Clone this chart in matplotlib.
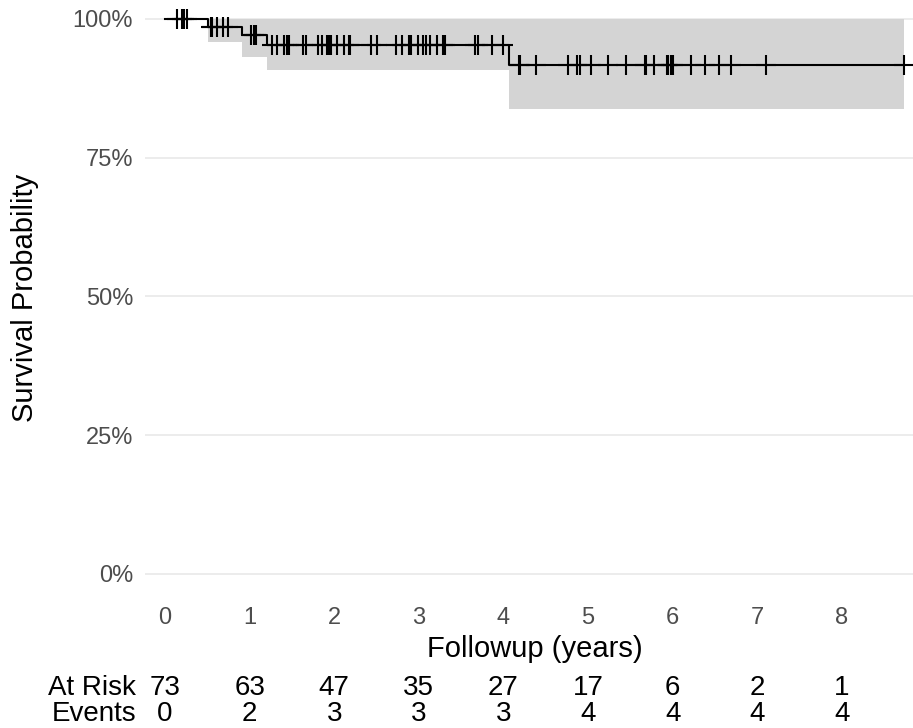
import matplotlib.pyplot as plt
import matplotlib.transforms as mtransforms
import numpy as np

plt.rcParams['font.family'] = ['Liberation Sans', 'DejaVu Sans']

# Kaplan-Meier steps
event_times = [0.51, 0.91, 1.20, 4.06]
surv = [0.985, 0.971, 0.954, 0.917]
ci_lower = [0.959, 0.932, 0.908, 0.838]
ci_upper = [1.0, 1.0, 1.0, 1.0]
end_time = 8.73

censor_times = [0.14, 0.20, 0.23, 0.26, 0.54, 0.56, 0.62, 0.69, 0.74,
                1.02, 1.05, 1.08, 1.26, 1.32, 1.41, 1.44, 1.46, 1.63, 1.67,
                1.81, 1.86, 1.92, 1.94, 1.96,
                2.03, 2.11, 2.17, 2.19, 2.43, 2.50, 2.73, 2.80, 2.88, 2.91, 2.99,
                3.05, 3.08, 3.13, 3.21, 3.29, 3.31, 3.66, 3.70, 3.87,
                4.00, 4.18, 4.20, 4.39, 4.76, 4.87, 4.91,
                5.04, 5.23, 5.45, 5.67, 5.69, 5.78, 5.93, 5.95, 5.98, 6.00,
                6.22, 6.38, 6.55, 6.69, 7.10, 8.73]

# risk table
table_times = [0, 1, 2, 3, 4, 5, 6, 7, 8]
at_risk = [73, 63, 47, 35, 27, 17, 6, 2, 1]
events = [0, 2, 3, 3, 3, 4, 4, 4, 4]

W, H = 913, 728
fig = plt.figure(figsize=(W / 100, H / 100), dpi=100)
ax = fig.add_axes([145 / W, (H - 601.75) / H, (W - 145) / W, 601.75 / H])

# confidence band
band_x = event_times + [end_time]
ax.fill_between(band_x, ci_lower + [ci_lower[-1]], ci_upper + [ci_upper[-1]],
                step='post', color='#d4d4d4', linewidth=0, zorder=1)

# survival curve
step_x = [0] + event_times + [end_time]
step_y = [1.0] + surv + [surv[-1]]
ax.step(step_x, step_y, where='post', color='black', linewidth=1.5, zorder=3)

# censoring marks
idx = np.searchsorted(event_times, censor_times, side='right')
cens_y = np.array([1.0] + surv)[idx]
ax.plot(censor_times, cens_y, linestyle='none', marker='+', markersize=14.4,
        markeredgewidth=1.5, color='black', zorder=4)

ax.set_xlim(-0.236, 8.84)
ax.set_ylim(-0.05, 1.0342)
ax.set_xticks(table_times)
ax.set_yticks([0, 0.25, 0.5, 0.75, 1.0])
ax.set_yticklabels(['0%', '25%', '50%', '75%', '100%'])
ax.tick_params(length=0, labelsize=17, labelcolor='#4d4d4d')
ax.tick_params(axis='x', pad=4)
ax.tick_params(axis='y', pad=8.5)
ax.grid(axis='y', color='#ebebeb', linewidth=1.3)
ax.grid(axis='x', visible=False)
ax.set_axisbelow(True)
for s in ax.spines.values():
    s.set_visible(False)

fig.text(25 / W, (H - 298) / H, 'Survival Probability', rotation=90,
         ha='center', va='center', fontsize=21)
fig.text(535 / W, (H - 656.7) / H, 'Followup (years)', ha='center',
         va='baseline', fontsize=21)

# risk table under the axis
trans = mtransforms.blended_transform_factory(ax.transData, fig.transFigure)
row_risk = (H - 695) / H
row_events = (H - 721) / H
fig.text(136 / W, row_risk, 'At Risk', ha='right', va='baseline', fontsize=20)
fig.text(136 / W, row_events, 'Events', ha='right', va='baseline', fontsize=20)
for t, n, e in zip(table_times, at_risk, events):
    ax.text(t, row_risk, str(n), transform=trans, ha='center',
            va='baseline', fontsize=20)
    ax.text(t, row_events, str(e), transform=trans, ha='center',
            va='baseline', fontsize=20)

fig.savefig('out.png', dpi=100)
